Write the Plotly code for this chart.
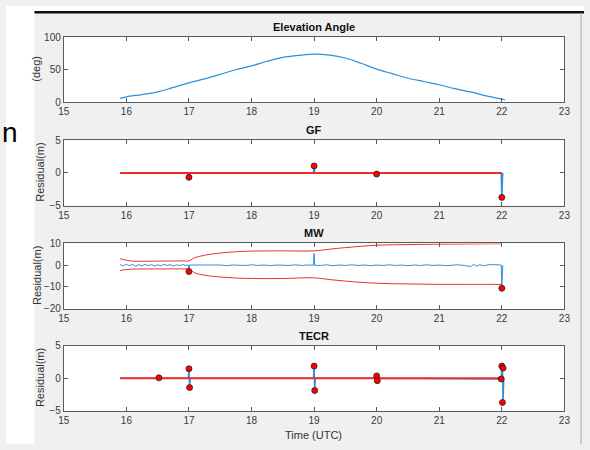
import plotly.graph_objects as go

# ---------------- data ----------------
x_ticks = [15, 16, 17, 18, 19, 20, 21, 22, 23]

elev_t = [15.9, 16.0, 16.25, 16.5, 16.75, 17.0, 17.25, 17.5, 17.75, 18.0, 18.25, 18.5, 18.75,
          19.0, 19.25, 19.5, 19.75, 20.0, 20.25, 20.5, 20.75, 21.0, 21.25, 21.5, 21.75, 22.0, 22.05]
elev_v = [6, 8.5, 12, 16, 23, 30, 36, 43, 50, 56, 63, 69, 72,
          74, 72.5, 68, 60, 51, 44, 37, 32, 27, 21, 16, 10, 5, 4]

gf_t = [15.9, 16.99, 17.0, 17.01, 18.99, 19.0, 19.01, 19.99, 20.0, 20.01, 21.99, 22.0, 22.01, 22.015]
gf_v = [0, 0, -0.67, 0, 0, 1.07, 0, 0, -0.18, 0, 0, -3.75, -1.0, 0]
gf_ref_t = [15.9, 22.0]
gf_ref_v = [0, 0]
gf_dot_t = [17.0, 19.0, 20.0, 22.0]
gf_dot_v = [-0.67, 1.07, -0.18, -3.75]

mw_t = [15.9, 15.95, 16.0, 16.05, 16.1, 16.15, 16.2, 16.25, 16.3, 16.35, 16.4, 16.45, 16.5,
        16.55, 16.6, 16.65, 16.7, 16.75, 16.8, 16.85, 16.9, 16.95, 16.99, 17.0, 17.01,
        17.1, 17.2, 17.3, 17.4, 17.5, 17.6, 17.7, 17.8, 17.9, 18.0, 18.1, 18.2, 18.3, 18.4,
        18.5, 18.6, 18.7, 18.8, 18.9, 18.99, 19.0, 19.01, 19.1, 19.2, 19.3, 19.4, 19.5, 19.6,
        19.7, 19.8, 19.9, 20.0, 20.1, 20.2, 20.3, 20.4, 20.5, 20.6, 20.7, 20.8, 20.9, 21.0,
        21.1, 21.2, 21.3, 21.4, 21.5, 21.55, 21.6, 21.65, 21.7, 21.8, 21.9, 21.99, 22.0,
        22.01, 22.015]
mw_v = [0.3, -0.3, 0.5, -0.2, 0.4, -0.5, 0.3, -0.3, 0.4, -0.2, 0.3, -0.4, 0.2,
        -0.3, 0.4, -0.1, 0.3, -0.4, 0.2, -0.2, 0.3, -0.1, 0.1, -2.9, 0.1,
        0.1, -0.1, 0.2, -0.1, 0.1, -0.2, 0.1, 0.0, -0.1, 0.2, -0.1, 0.1, -0.2, 0.1,
        0.0, -0.1, 0.2, -0.1, 0.1, 0.0, 5.5, 0.0, -0.1, 0.2, -0.2, 0.1, -0.1, 0.2,
        -0.1, 0.1, -0.2, 0.1, -0.1, 0.2, -0.1, 0.1, -0.2, 0.1, -0.1, 0.2, -0.1, 0.1,
        -0.2, 0.1, 0.2, -0.1, -0.6, 0.4, -0.4, 0.3, -0.3, 0.3, 0.2, 0.1, -10.6,
        -2.2, 0.0]
mw_env_t = [15.9, 16.0, 16.1, 16.5, 16.9, 17.0, 17.05, 17.1, 17.25, 17.5, 17.75, 18.0,
            18.5, 19.0, 19.25, 19.5, 20.0, 20.5, 21.0, 21.5, 22.0]
mw_upper = [3.0, 2.3, 1.9, 1.9, 2.0, 2.0, 2.8, 3.5, 4.6, 5.6, 6.2, 6.5,
            6.6, 6.6, 7.4, 8.1, 9.2, 9.5, 9.7, 9.8, 9.9]
mw_lower = [-2.4, -2.0, -1.8, -1.7, -1.7, -1.8, -2.8, -3.6, -4.6, -5.4, -5.9, -6.1,
            -6.1, -5.8, -6.6, -7.3, -8.3, -8.6, -8.8, -8.8, -8.8]
mw_dot_t = [17.0, 22.0]
mw_dot_v = [-2.9, -10.6]

tec_t = [15.9, 16.51, 16.52, 16.53, 16.99, 17.0, 17.01, 17.02, 18.99, 19.0, 19.01, 19.02,
         19.99, 20.0, 20.01, 20.02, 21.98, 21.99, 22.0, 22.01, 22.02, 22.03]
tec_v = [0, 0, 0.07, 0, 0, 1.46, -1.42, 0, 0, 1.87, -1.87, 0,
         0, 0.37, -0.37, 0, 0, -0.1, 1.87, 1.57, -3.7, 0]
tec_ref_t = [15.9, 22.0]
tec_ref_v = [0, 0]
tec_dot_t = [16.52, 17.0, 17.01, 19.0, 19.01, 20.0, 20.01, 21.99, 22.0, 22.02, 22.01]
tec_dot_v = [0.07, 1.46, -1.42, 1.87, -1.87, 0.37, -0.37, -0.1, 1.87, 1.57, -3.7]

titles = ["Elevation Angle", "GF", "MW", "TECR"]

# ---------------- layout helpers ----------------
W, H = 590, 450
BLUE = "#2f8fd8"
RED = "#f02b2b"
AX = "#5a5a5a"
FONT = "Liberation Sans, Arial, sans-serif"


def px(x):
    return x / W


def py(y):
    return 1 - y / H


panels = [(32, 99), (138, 205), (244, 311), (349, 416)]
x_dom = [px(59), px(570)]
yranges = [[0, 100], [-5, 5], [-20, 10], [-5, 5]]
yticks = [[0, 50, 100], [-5, 0, 5], [-20, -10, 0, 10], [-5, 0, 5]]

fig = go.Figure()


def add(trace, i):
    suf = "" if i == 0 else str(i + 1)
    trace.update(xaxis="x" + suf, yaxis="y" + suf)
    fig.add_trace(trace)


add(go.Scatter(x=elev_t, y=elev_v, mode="lines", line=dict(color=BLUE, width=1.2, shape="spline")), 0)

add(go.Scatter(x=gf_t, y=gf_v, mode="lines", line=dict(color=BLUE, width=1.5)), 1)
add(go.Scatter(x=gf_ref_t, y=gf_ref_v, mode="lines", line=dict(color=RED, width=2)), 1)
add(go.Scatter(x=gf_dot_t, y=gf_dot_v, mode="markers",
               marker=dict(color="#ff0000", size=6, line=dict(color="#222", width=0.8))), 1)

add(go.Scatter(x=mw_t, y=mw_v, mode="lines", line=dict(color=BLUE, width=1)), 2)
add(go.Scatter(x=mw_env_t, y=mw_upper, mode="lines", line=dict(color=RED, width=1, shape="spline")), 2)
add(go.Scatter(x=mw_env_t, y=mw_lower, mode="lines", line=dict(color=RED, width=1, shape="spline")), 2)
add(go.Scatter(x=mw_dot_t, y=mw_dot_v, mode="markers",
               marker=dict(color="#ff0000", size=6, line=dict(color="#222", width=0.8))), 2)

add(go.Scatter(x=tec_t, y=tec_v, mode="lines", line=dict(color=BLUE, width=1.5)), 3)
add(go.Scatter(x=tec_ref_t, y=tec_ref_v, mode="lines", line=dict(color=RED, width=2)), 3)
add(go.Scatter(x=tec_dot_t, y=tec_dot_v, mode="markers",
               marker=dict(color="#ff0000", size=6, line=dict(color="#222", width=0.8))), 3)

layout = dict(
    width=W, height=H,
    margin=dict(l=0, r=0, t=0, b=0),
    paper_bgcolor="#f0f0f0",
    plot_bgcolor="white",
    showlegend=False,
    font=dict(family=FONT, size=10, color="#333333"),
)

for i, (top, bot) in enumerate(panels):
    suf = "" if i == 0 else str(i + 1)
    layout["xaxis" + suf] = dict(
        domain=x_dom, anchor="y" + suf, range=[15, 23], tickvals=x_ticks,
        ticks="inside", ticklen=4, tickcolor=AX, showline=True, linecolor=AX, linewidth=1,
        mirror="allticks", showgrid=False, zeroline=False,
        tickfont=dict(size=10, color="#3a3a3a"),
    )
    layout["yaxis" + suf] = dict(
        domain=[py(bot), py(top)], anchor="x" + suf, range=yranges[i], tickvals=yticks[i],
        ticks="inside", ticklen=4, tickcolor=AX, showline=True, linecolor=AX, linewidth=1,
        mirror="allticks", showgrid=False, zeroline=False,
        tickfont=dict(size=10, color="#3a3a3a"),
    )

fig.update_layout(**layout)

ann = []
title_y = [22, 127, 233, 339]
for t, yy in zip(titles, title_y):
    ann.append(dict(text="<b>" + t + "</b>", x=px(314), y=py(yy), xref="paper", yref="paper",
                    showarrow=False, xanchor="center", yanchor="middle",
                    font=dict(size=11, color="#111111", family=FONT)))

ylabels = [("(deg)", 31, 64), ("Residual(m)", 35, 171), ("Residual(m)", 31, 277), ("Residual(m)", 35, 382)]
for t, xx, yy in ylabels:
    ann.append(dict(text=t, x=px(xx), y=py(yy), xref="paper", yref="paper", textangle=-90,
                    showarrow=False, xanchor="center", yanchor="middle",
                    font=dict(size=11, color="#333333", family=FONT)))

ann.append(dict(text="Time (UTC)", x=px(314), y=py(441), xref="paper", yref="paper",
                showarrow=False, xanchor="center", yanchor="middle",
                font=dict(size=11, color="#333333", family=FONT)))
ann.append(dict(text="n", x=px(14), y=py(130), xref="paper", yref="paper",
                showarrow=False, xanchor="right", yanchor="middle",
                font=dict(size=28, color="#000000", family=FONT)))

fig.update_layout(annotations=ann)

shapes = [
    dict(type="rect", xref="paper", yref="paper", x0=0, x1=px(29), y0=0, y1=1,
         fillcolor="white", line=dict(width=0), layer="below"),
    dict(type="rect", xref="paper", yref="paper", x0=0, x1=1, y0=py(5.5), y1=1,
         fillcolor="white", line=dict(width=0), layer="below"),
    dict(type="line", xref="paper", yref="paper", x0=px(29), x1=1, y0=py(6.5), y1=py(6.5),
         line=dict(color="#111111", width=2.5), layer="below"),
    dict(type="line", xref="paper", yref="paper", x0=px(587), x1=px(587), y0=0, y1=py(7),
         line=dict(color="#a8a8a8", width=1), layer="below"),
]
fig.update_layout(shapes=shapes)

fig.write_html(
    "out.html",
    config={"displayModeBar": False},
    post_script=(
        "document.documentElement.style.margin='0';"
        "document.body.style.margin='0';"
        "document.body.style.overflow='hidden';"
        "var d=document.getElementById('{plot_id}');"
        "d.style.position='fixed';d.style.top='0px';d.style.left='0px';"
    ),
)
